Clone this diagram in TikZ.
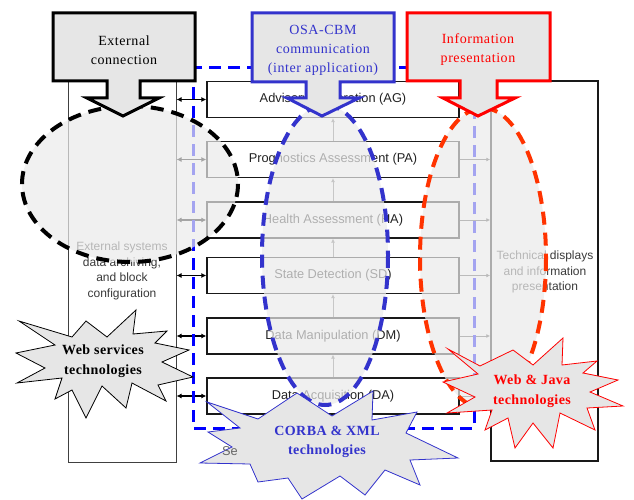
\documentclass[tikz,border=0pt]{standalone}
\usepackage{fontspec}
\setmainfont{Liberation Serif}
\setsansfont{Liberation Sans}
\usetikzlibrary{arrows.meta}

\definecolor{calloutfill}{HTML}{E6E6E6}
\definecolor{osablue}{HTML}{3333CC}
\definecolor{dashblue}{HTML}{0000FF}
\definecolor{infored}{HTML}{FF0000}
\definecolor{ellred}{HTML}{FF3300}
\definecolor{boxtext}{HTML}{222222}
\definecolor{sidetextcol}{HTML}{3A3A3A}

\begin{document}
\begin{tikzpicture}[x=1pt,y=-1pt,
  layerbox/.style={draw=black!90, line width=1.3pt, fill=white,
    minimum width=252pt, minimum height=36pt, inner sep=0pt,
    font=\sffamily\fontsize{12.8}{14}\selectfont, text=boxtext},
  columnbox/.style={draw=black!75, line width=1pt, fill=white, inner sep=0pt},
  sidetext/.style={align=center, text=sidetextcol, inner sep=0pt,
    font=\sffamily\fontsize{12}{15.5}\selectfont},
  dblarrow/.style={black, line width=1.2pt,
    {Latex[length=5pt,width=5pt]}-{Latex[length=5pt,width=5pt]}},
  rarrow/.style={black!70, line width=0.8pt, -{Latex[length=4pt,width=4pt]}},
  uparrow/.style={black!55, line width=0.8pt, -{Latex[length=4pt,width=4pt]}},
  haze/.style={fill=black!8, fill opacity=0.7},
  ringdash/.style={line width=4pt, dash pattern=on 13pt off 8pt},
  callout/.style={fill=calloutfill, line width=3pt, line join=miter},
  callouttext/.style={align=center, inner sep=0pt,
    font=\addfontfeatures{LetterSpace=4}\fontsize{14}{19}\selectfont},
  starshape/.style={fill=calloutfill, line width=0.8pt, line join=miter},
  startext/.style={align=center, inner sep=0pt,
    font=\bfseries\addfontfeatures{LetterSpace=3}\fontsize{14}{19.5}\selectfont},
]
\useasboundingbox (0,0) rectangle (634,500);

% side columns
\node[columnbox, minimum width=108pt, minimum height=382pt] (lcol) at (122,271) {};
\node[columnbox, draw=black!90, line width=1.5pt, minimum width=107pt, minimum height=380pt] (rcol) at (544.5,271) {};

% processing layers
\node[layerbox] (ag) at (333,99.5)  {Advisory Generation (AG)};
\node[layerbox] (pa) at (333,159.5) {Prognostics Assessment (PA)};
\node[layerbox] (ha) at (333,220)   {Health Assessment (HA)};
\node[layerbox] (sd) at (333,275.5) {State Detection (SD)};
\node[layerbox] (dm) at (333,336)   {Data Manipulation (DM)};
\node[layerbox] (da) at (333,396)   {Data Acquisition (DA)};

% data flow upwards between layers
\foreach \lo/\hi in {pa/ag, ha/pa, sd/ha, dm/sd, da/dm}
  \draw[uparrow] (\lo.north) -- (\hi.south);

% links to the external column and to the display column
\foreach \b in {ag, pa, ha, sd, dm, da} {
  \draw[dblarrow] (lcol.east |- \b.west) -- (\b.west);
  \draw[rarrow] (\b.east) -- (rcol.west |- \b.east);
}

% column texts
\node[sidetext] (ltext) at (122,271) {External systems\\data archiving,\\and block\\configuration};
\node[sidetext] (rtext) at (545,272) {Technical displays\\and information\\presentation};

% OSA-CBM application boundary
\draw[dashblue, line width=3pt, dash pattern=on 12pt off 7pt] (193,68) rectangle (474,428);

% technology zones
\fill[haze] (130,184) ellipse [x radius=108, y radius=78];
\fill[haze] (325,255) ellipse [x radius=63, y radius=150];
\fill[haze] (483,258) ellipse [x radius=63, y radius=150];
\draw[ringdash, black]  (130,184) ellipse [x radius=108, y radius=78];
\draw[ringdash, osablue] (325,255) ellipse [x radius=63, y radius=150];
\draw[ringdash, ellred] (483,258) ellipse [x radius=63, y radius=150];

% arrow callouts
\draw[callout, draw=black] (53,13) -- (195,13) -- (195,81) -- (140,81) -- (140,98)
  -- (159,98) -- (123,116) -- (87,98) -- (107,98) -- (107,81) -- (53,81) -- cycle;
\node[callouttext] (extlbl) at (124,50) {External\\connection};

\draw[callout, draw=osablue] (252,13) -- (394,13) -- (394,82) -- (340,82) -- (340,98)
  -- (359,98) -- (322,116) -- (287,98) -- (306,98) -- (306,82) -- (252,82) -- cycle;
\node[callouttext, text=osablue] (osalbl) at (323,50) {OSA-CBM\\communication\\(inter application)};

\draw[callout, draw=infored] (407,13) -- (550,13) -- (550,81) -- (497,81) -- (497,98)
  -- (515,98) -- (478,116) -- (443,98) -- (460,98) -- (460,81) -- (407,81) -- cycle;
\node[callouttext, text=infored] (infolbl) at (478,50) {Information\\presentation};

% technology bursts
\draw[starshape, draw=black] (19,321) -- (55,345) -- (16,353) -- (45,368) -- (17,383)
  -- (62,378) -- (55,399) -- (72,390) -- (86,418) -- (102,386) -- (126,408) -- (132,383)
  -- (166,401) -- (158,385) -- (193,377) -- (162,362) -- (189,350) -- (155,343)
  -- (167,331) -- (133,334) -- (136,310) -- (107,337) -- (86,321) -- (72,337) -- cycle;
\node[startext] (wslbl) at (103,361) {Web services\\technologies};

\draw[starshape, draw=osablue] (207,402) -- (258,419) -- (297,393) -- (332,416)
  -- (373,391) -- (372,420) -- (417,412) -- (406,433) -- (458,458) -- (410,460)
  -- (420,485) -- (385,470) -- (365,495) -- (340,476) -- (302,499) -- (288,478)
  -- (258,482) -- (250,464) -- (200,463) -- (232,447) -- (208,432) -- (240,428) -- cycle;
\node[startext, text=osablue] (corbalbl) at (327,442) {CORBA \& XML\\technologies};

\draw[starshape, draw=infored] (448,349) -- (480,366) -- (513,350) -- (533,365)
  -- (563,338) -- (562,365) -- (597,361) -- (583,373) -- (618,380) -- (590,392)
  -- (623,406) -- (587,408) -- (595,430) -- (560,413) -- (553,448) -- (533,423)
  -- (515,448) -- (508,418) -- (485,430) -- (492,410) -- (447,413) -- (475,397)
  -- (443,382) -- (478,374) -- cycle;
\node[startext, text=infored] (javalbl) at (532,391) {Web \& Java\\technologies};

% sensor label peeking out below the layers
\node[anchor=west, inner sep=0pt, text=black!60, font=\sffamily\fontsize{12.8}{14}\selectfont] (selbl) at (222,451) {Se};
\end{tikzpicture}
\end{document}
